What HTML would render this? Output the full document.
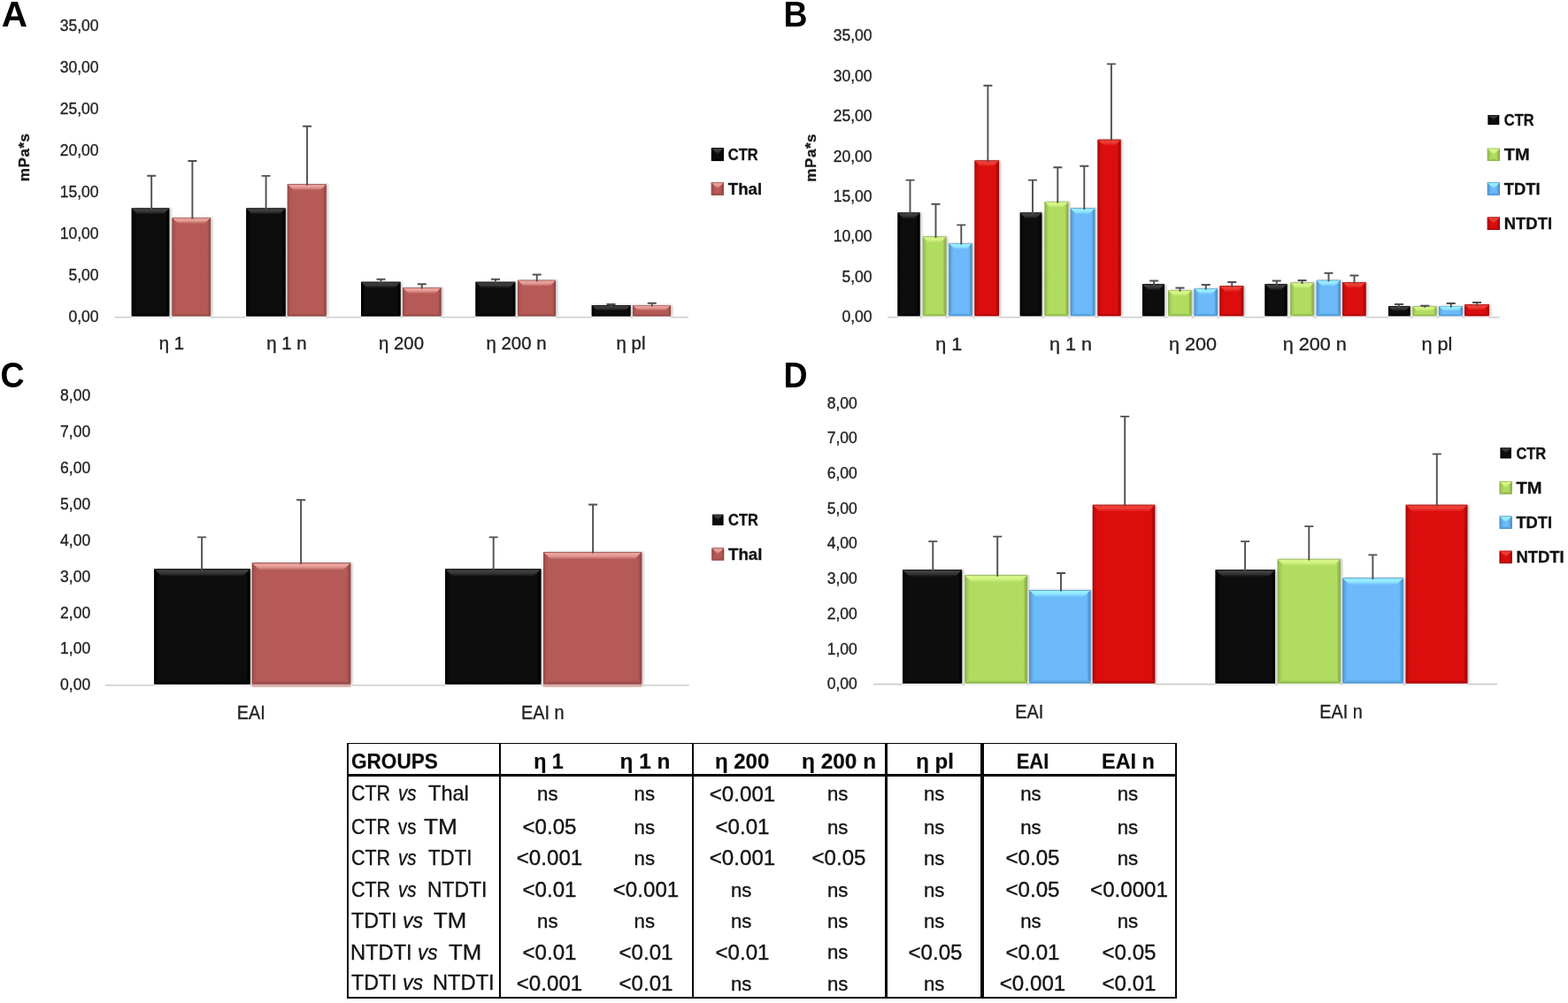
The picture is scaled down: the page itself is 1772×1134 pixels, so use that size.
<!DOCTYPE html>
<html lang="en">
<head>
<meta charset="utf-8">
<title>Figure: viscosity and EAI by group</title>
<style>
html,body{margin:0;padding:0;background:#fff;}
body{width:1772px;height:1134px;position:relative;overflow:hidden;font-family:"Liberation Sans",sans-serif;}
svg.charts{position:absolute;left:0;top:0;display:block;}
.tbl{position:absolute;left:0;top:0;width:1772px;height:1134px;}
.ln{position:absolute;background:#060606;}
.c{position:absolute;white-space:nowrap;font-size:24px;line-height:28px;height:28px;margin-top:-14px;color:#141414;
   transform:translateX(-50%);-webkit-text-stroke:0.35px #141414;}
.c.l{transform:scaleX(.95);transform-origin:0 50%;}
.c.h{font-weight:bold;color:#0a0a0a;-webkit-text-stroke:0.2px #0a0a0a;}
.c.h.l{transform-origin:0 50%;}
.c.n{font-size:22.2px;margin-top:-13.4px;}
.c.d{transform:translateX(-50%) scaleX(1.005);}
.r{position:absolute;left:0;width:560px;height:28px;margin-top:-14px;font-size:24px;line-height:28px;color:#141414;-webkit-text-stroke:0.35px #141414;}
.r .w{position:absolute;top:0;white-space:nowrap;transform-origin:0 50%;}
.r i{font-style:italic;}
</style>
</head>
<body>
<svg width="1772" height="1134" viewBox="0 0 1772 1134" font-family='"Liberation Sans", sans-serif' class="charts" role="img" aria-label="Bar charts A to D">
<defs><filter id="sh" x="-20%" y="-20%" width="140%" height="140%"><feGaussianBlur in="SourceAlpha" stdDeviation="1.8"/><feOffset dx="1.5" dy="0.4"/><feComponentTransfer><feFuncA type="linear" slope="0.24"/></feComponentTransfer></filter><linearGradient id="kT" x1="0" y1="0" x2="0" y2="1"><stop offset="0" stop-color="#000000"/><stop offset="0.16" stop-color="#3e3e3e"/><stop offset="0.5" stop-color="#3e3e3e" stop-opacity="0.9"/><stop offset="1" stop-color="#0d0d0d"/></linearGradient><linearGradient id="kB" x1="0" y1="0" x2="0" y2="1"><stop offset="0" stop-color="#0d0d0d"/><stop offset="0.55" stop-color="#0d0d0d"/><stop offset="1" stop-color="#000000"/></linearGradient><linearGradient id="kR" x1="0" y1="0" x2="1" y2="0"><stop offset="0" stop-color="#0d0d0d"/><stop offset="0.45" stop-color="#0d0d0d"/><stop offset="0.8" stop-color="#000000"/><stop offset="1" stop-color="#000000"/></linearGradient><linearGradient id="kL" x1="0" y1="0" x2="1" y2="0"><stop offset="0" stop-color="#000000"/><stop offset="0.25" stop-color="#050505"/><stop offset="0.7" stop-color="#0d0d0d"/><stop offset="1" stop-color="#0d0d0d"/></linearGradient><linearGradient id="pT" x1="0" y1="0" x2="0" y2="1"><stop offset="0" stop-color="#8a4442"/><stop offset="0.16" stop-color="#eba39d"/><stop offset="0.5" stop-color="#eba39d" stop-opacity="0.9"/><stop offset="1" stop-color="#b55a56"/></linearGradient><linearGradient id="pB" x1="0" y1="0" x2="0" y2="1"><stop offset="0" stop-color="#b55a56"/><stop offset="0.55" stop-color="#b55a56"/><stop offset="1" stop-color="#8f4542"/></linearGradient><linearGradient id="pR" x1="0" y1="0" x2="1" y2="0"><stop offset="0" stop-color="#b55a56"/><stop offset="0.45" stop-color="#b55a56"/><stop offset="0.8" stop-color="#9a4a47"/><stop offset="1" stop-color="#8a4442"/></linearGradient><linearGradient id="pL" x1="0" y1="0" x2="1" y2="0"><stop offset="0" stop-color="#8a4442"/><stop offset="0.25" stop-color="#a95250"/><stop offset="0.7" stop-color="#b55a56"/><stop offset="1" stop-color="#b55a56"/></linearGradient><linearGradient id="gT" x1="0" y1="0" x2="0" y2="1"><stop offset="0" stop-color="#8aa850"/><stop offset="0.16" stop-color="#d8f68a"/><stop offset="0.5" stop-color="#d8f68a" stop-opacity="0.9"/><stop offset="1" stop-color="#b0dc60"/></linearGradient><linearGradient id="gB" x1="0" y1="0" x2="0" y2="1"><stop offset="0" stop-color="#b0dc60"/><stop offset="0.55" stop-color="#b0dc60"/><stop offset="1" stop-color="#88ac48"/></linearGradient><linearGradient id="gR" x1="0" y1="0" x2="1" y2="0"><stop offset="0" stop-color="#b0dc60"/><stop offset="0.45" stop-color="#b0dc60"/><stop offset="0.8" stop-color="#8fb44e"/><stop offset="1" stop-color="#8aa850"/></linearGradient><linearGradient id="gL" x1="0" y1="0" x2="1" y2="0"><stop offset="0" stop-color="#8aa850"/><stop offset="0.25" stop-color="#9dc455"/><stop offset="0.7" stop-color="#b0dc60"/><stop offset="1" stop-color="#b0dc60"/></linearGradient><linearGradient id="bT" x1="0" y1="0" x2="0" y2="1"><stop offset="0" stop-color="#4e8cc0"/><stop offset="0.16" stop-color="#98f0ff"/><stop offset="0.5" stop-color="#98f0ff" stop-opacity="0.9"/><stop offset="1" stop-color="#6cbaf9"/></linearGradient><linearGradient id="bB" x1="0" y1="0" x2="0" y2="1"><stop offset="0" stop-color="#6cbaf9"/><stop offset="0.55" stop-color="#6cbaf9"/><stop offset="1" stop-color="#4a8ec8"/></linearGradient><linearGradient id="bR" x1="0" y1="0" x2="1" y2="0"><stop offset="0" stop-color="#6cbaf9"/><stop offset="0.45" stop-color="#6cbaf9"/><stop offset="0.8" stop-color="#5096d0"/><stop offset="1" stop-color="#4e8cc0"/></linearGradient><linearGradient id="bL" x1="0" y1="0" x2="1" y2="0"><stop offset="0" stop-color="#4e8cc0"/><stop offset="0.25" stop-color="#5aa2de"/><stop offset="0.7" stop-color="#6cbaf9"/><stop offset="1" stop-color="#6cbaf9"/></linearGradient><linearGradient id="rT" x1="0" y1="0" x2="0" y2="1"><stop offset="0" stop-color="#9a0808"/><stop offset="0.16" stop-color="#ee4038"/><stop offset="0.5" stop-color="#ee4038" stop-opacity="0.9"/><stop offset="1" stop-color="#dc0d0d"/></linearGradient><linearGradient id="rB" x1="0" y1="0" x2="0" y2="1"><stop offset="0" stop-color="#dc0d0d"/><stop offset="0.55" stop-color="#dc0d0d"/><stop offset="1" stop-color="#a00606"/></linearGradient><linearGradient id="rR" x1="0" y1="0" x2="1" y2="0"><stop offset="0" stop-color="#dc0d0d"/><stop offset="0.45" stop-color="#dc0d0d"/><stop offset="0.8" stop-color="#a80808"/><stop offset="1" stop-color="#9a0808"/></linearGradient><linearGradient id="rL" x1="0" y1="0" x2="1" y2="0"><stop offset="0" stop-color="#9a0808"/><stop offset="0.25" stop-color="#c40a0a"/><stop offset="0.7" stop-color="#dc0d0d"/><stop offset="1" stop-color="#dc0d0d"/></linearGradient></defs>
<g id="chart-A">
<path d="M129.5 358.75H778" stroke="#cdcdcd" stroke-width="1.6"/>
<text transform="translate(111.6 35.1) scale(0.965 1)" font-size="18.2" text-anchor="end" font-weight="normal" fill="#222" stroke="#222" stroke-width="0.32">35,00</text>
<text transform="translate(111.6 82.1) scale(0.965 1)" font-size="18.2" text-anchor="end" font-weight="normal" fill="#222" stroke="#222" stroke-width="0.32">30,00</text>
<text transform="translate(111.6 129.1) scale(0.965 1)" font-size="18.2" text-anchor="end" font-weight="normal" fill="#222" stroke="#222" stroke-width="0.32">25,00</text>
<text transform="translate(111.6 176.1) scale(0.965 1)" font-size="18.2" text-anchor="end" font-weight="normal" fill="#222" stroke="#222" stroke-width="0.32">20,00</text>
<text transform="translate(111.6 223) scale(0.965 1)" font-size="18.2" text-anchor="end" font-weight="normal" fill="#222" stroke="#222" stroke-width="0.32">15,00</text>
<text transform="translate(111.6 270) scale(0.965 1)" font-size="18.2" text-anchor="end" font-weight="normal" fill="#222" stroke="#222" stroke-width="0.32">10,00</text>
<text transform="translate(111.6 316.9) scale(0.965 1)" font-size="18.2" text-anchor="end" font-weight="normal" fill="#222" stroke="#222" stroke-width="0.32">5,00</text>
<text transform="translate(111.6 363.9) scale(0.965 1)" font-size="18.2" text-anchor="end" font-weight="normal" fill="#222" stroke="#222" stroke-width="0.32">0,00</text>
<clipPath id="clipA"><rect x="109.5" y="0" width="708.5" height="358"/></clipPath>
<g clip-path="url(#clipA)"><g filter="url(#sh)">
<rect x="148.75" y="235.4" width="42.5" height="122" fill="#0d0d0d"/>
<rect x="194.5" y="246" width="43.5" height="111.4" fill="#b55a56"/>
<rect x="278.3" y="235.4" width="44.3" height="122" fill="#0d0d0d"/>
<rect x="324.8" y="208.2" width="43.8" height="149.2" fill="#b55a56"/>
<rect x="408" y="318.75" width="44.5" height="38.65" fill="#0d0d0d"/>
<rect x="455" y="325" width="43.5" height="32.4" fill="#b55a56"/>
<rect x="537.5" y="318.75" width="44.75" height="38.65" fill="#0d0d0d"/>
<rect x="585" y="316.75" width="43" height="40.65" fill="#b55a56"/>
<rect x="668.75" y="345" width="43.75" height="12.4" fill="#0d0d0d"/>
<rect x="715" y="345" width="43" height="12.4" fill="#b55a56"/>
</g></g>
<rect x="148.75" y="357.4" width="42.5" height="2.35" fill="#fff" fill-opacity="0.8"/>
<rect x="148.75" y="235.4" width="42.5" height="122" fill="#0d0d0d"/><path d="M148.75 235.4L155.75 242.4V350.4L148.75 357.4Z" fill="url(#kL)"/><path d="M191.25 235.4L184.25 242.4V350.4L191.25 357.4Z" fill="url(#kR)"/><path d="M148.75 357.4L155.75 350.4H184.25L191.25 357.4Z" fill="url(#kB)"/><path d="M148.75 235.4H191.25L184.25 242.4H155.75Z" fill="url(#kT)"/>
<rect x="194.5" y="357.4" width="43.5" height="2.35" fill="#fff" fill-opacity="0.8"/>
<rect x="194.5" y="246" width="43.5" height="111.4" fill="#b55a56"/><path d="M194.5 246L201.5 253V350.4L194.5 357.4Z" fill="url(#pL)"/><path d="M238 246L231 253V350.4L238 357.4Z" fill="url(#pR)"/><path d="M194.5 357.4L201.5 350.4H231L238 357.4Z" fill="url(#pB)"/><path d="M194.5 246H238L231 253H201.5Z" fill="url(#pT)"/>
<rect x="278.3" y="357.4" width="44.3" height="2.35" fill="#fff" fill-opacity="0.8"/>
<rect x="278.3" y="235.4" width="44.3" height="122" fill="#0d0d0d"/><path d="M278.3 235.4L285.3 242.4V350.4L278.3 357.4Z" fill="url(#kL)"/><path d="M322.6 235.4L315.6 242.4V350.4L322.6 357.4Z" fill="url(#kR)"/><path d="M278.3 357.4L285.3 350.4H315.6L322.6 357.4Z" fill="url(#kB)"/><path d="M278.3 235.4H322.6L315.6 242.4H285.3Z" fill="url(#kT)"/>
<rect x="324.8" y="357.4" width="43.8" height="2.35" fill="#fff" fill-opacity="0.8"/>
<rect x="324.8" y="208.2" width="43.8" height="149.2" fill="#b55a56"/><path d="M324.8 208.2L331.8 215.2V350.4L324.8 357.4Z" fill="url(#pL)"/><path d="M368.6 208.2L361.6 215.2V350.4L368.6 357.4Z" fill="url(#pR)"/><path d="M324.8 357.4L331.8 350.4H361.6L368.6 357.4Z" fill="url(#pB)"/><path d="M324.8 208.2H368.6L361.6 215.2H331.8Z" fill="url(#pT)"/>
<rect x="408" y="357.4" width="44.5" height="2.35" fill="#fff" fill-opacity="0.8"/>
<rect x="408" y="318.75" width="44.5" height="38.65" fill="#0d0d0d"/><path d="M408 318.75L415 325.75V350.4L408 357.4Z" fill="url(#kL)"/><path d="M452.5 318.75L445.5 325.75V350.4L452.5 357.4Z" fill="url(#kR)"/><path d="M408 357.4L415 350.4H445.5L452.5 357.4Z" fill="url(#kB)"/><path d="M408 318.75H452.5L445.5 325.75H415Z" fill="url(#kT)"/>
<rect x="455" y="357.4" width="43.5" height="2.35" fill="#fff" fill-opacity="0.8"/>
<rect x="455" y="325" width="43.5" height="32.4" fill="#b55a56"/><path d="M455 325L462 332V350.4L455 357.4Z" fill="url(#pL)"/><path d="M498.5 325L491.5 332V350.4L498.5 357.4Z" fill="url(#pR)"/><path d="M455 357.4L462 350.4H491.5L498.5 357.4Z" fill="url(#pB)"/><path d="M455 325H498.5L491.5 332H462Z" fill="url(#pT)"/>
<rect x="537.5" y="357.4" width="44.75" height="2.35" fill="#fff" fill-opacity="0.8"/>
<rect x="537.5" y="318.75" width="44.75" height="38.65" fill="#0d0d0d"/><path d="M537.5 318.75L544.5 325.75V350.4L537.5 357.4Z" fill="url(#kL)"/><path d="M582.25 318.75L575.25 325.75V350.4L582.25 357.4Z" fill="url(#kR)"/><path d="M537.5 357.4L544.5 350.4H575.25L582.25 357.4Z" fill="url(#kB)"/><path d="M537.5 318.75H582.25L575.25 325.75H544.5Z" fill="url(#kT)"/>
<rect x="585" y="357.4" width="43" height="2.35" fill="#fff" fill-opacity="0.8"/>
<rect x="585" y="316.75" width="43" height="40.65" fill="#b55a56"/><path d="M585 316.75L592 323.75V350.4L585 357.4Z" fill="url(#pL)"/><path d="M628 316.75L621 323.75V350.4L628 357.4Z" fill="url(#pR)"/><path d="M585 357.4L592 350.4H621L628 357.4Z" fill="url(#pB)"/><path d="M585 316.75H628L621 323.75H592Z" fill="url(#pT)"/>
<rect x="668.75" y="357.4" width="43.75" height="2.35" fill="#fff" fill-opacity="0.8"/>
<rect x="668.75" y="345" width="43.75" height="12.4" fill="#0d0d0d"/><path d="M668.75 345L674.95 351.2V351.2L668.75 357.4Z" fill="url(#kL)"/><path d="M712.5 345L706.3 351.2V351.2L712.5 357.4Z" fill="url(#kR)"/><path d="M668.75 357.4L674.95 351.2H706.3L712.5 357.4Z" fill="url(#kB)"/><path d="M668.75 345H712.5L706.3 351.2H674.95Z" fill="url(#kT)"/>
<rect x="715" y="357.4" width="43" height="2.35" fill="#fff" fill-opacity="0.8"/>
<rect x="715" y="345" width="43" height="12.4" fill="#b55a56"/><path d="M715 345L721.2 351.2V351.2L715 357.4Z" fill="url(#pL)"/><path d="M758 345L751.8 351.2V351.2L758 357.4Z" fill="url(#pR)"/><path d="M715 357.4L721.2 351.2H751.8L758 357.4Z" fill="url(#pB)"/><path d="M715 345H758L751.8 351.2H721.2Z" fill="url(#pT)"/>
<path d="M171.2 236.9V198.8M166.2 198.8H176.2" stroke="#505050" stroke-width="1.9" fill="none"/>
<path d="M217.4 247.5V182M212.4 182H222.4" stroke="#505050" stroke-width="1.9" fill="none"/>
<path d="M300.6 236.9V198.9M295.6 198.9H305.6" stroke="#505050" stroke-width="1.9" fill="none"/>
<path d="M347.1 209.7V142.7M342.1 142.7H352.1" stroke="#505050" stroke-width="1.9" fill="none"/>
<path d="M430.5 320.25V315.75M425.5 315.75H435.5" stroke="#505050" stroke-width="1.9" fill="none"/>
<path d="M476.75 326.5V321.25M471.75 321.25H481.75" stroke="#505050" stroke-width="1.9" fill="none"/>
<path d="M560 320.25V315.75M555 315.75H565" stroke="#505050" stroke-width="1.9" fill="none"/>
<path d="M606.75 318.25V310.5M601.75 310.5H611.75" stroke="#505050" stroke-width="1.9" fill="none"/>
<path d="M690.5 346.5V344M685.5 344H695.5" stroke="#505050" stroke-width="1.9" fill="none"/>
<path d="M736.75 346.5V342.75M731.75 342.75H741.75" stroke="#505050" stroke-width="1.9" fill="none"/>
<text transform="translate(194 395.4) scale(1.030 1)" font-size="19.8" text-anchor="middle" font-weight="normal" fill="#222" stroke="#222" stroke-width="0.32">η 1</text>
<text transform="translate(324 395.4) scale(1.030 1)" font-size="19.8" text-anchor="middle" font-weight="normal" fill="#222" stroke="#222" stroke-width="0.32">η 1 n</text>
<text transform="translate(453.5 395.4) scale(1.030 1)" font-size="19.8" text-anchor="middle" font-weight="normal" fill="#222" stroke="#222" stroke-width="0.32">η 200</text>
<text transform="translate(583.5 395.4) scale(1.030 1)" font-size="19.8" text-anchor="middle" font-weight="normal" fill="#222" stroke="#222" stroke-width="0.32">η 200 n</text>
<text transform="translate(713 395.4) scale(1.030 1)" font-size="19.8" text-anchor="middle" font-weight="normal" fill="#222" stroke="#222" stroke-width="0.32">η pl</text>
<text transform="translate(27.5 177.8) rotate(-90)" font-size="17.1" font-weight="bold" text-anchor="middle" fill="#1a1a1a" stroke="#1a1a1a" stroke-width="0.35" letter-spacing="0.5" y="5.8">mPa*s</text>
<rect x="803.9" y="167.1" width="14" height="15" fill="#0d0d0d"/><path d="M803.9 167.1L810.9 174.6L803.9 182.1Z" fill="url(#kL)"/><path d="M817.9 167.1L810.9 174.6L817.9 182.1Z" fill="url(#kR)"/><path d="M803.9 182.1L810.9 174.6L817.9 182.1Z" fill="url(#kB)"/><path d="M803.9 167.1H817.9L810.9 174.6Z" fill="url(#kT)"/>
<text transform="translate(822.8 180.9) scale(0.930 1)" font-size="17.7" text-anchor="start" font-weight="bold" fill="#111" stroke="#111" stroke-width="0.3">CTR</text>
<rect x="803.8" y="206.1" width="14.2" height="14.6" fill="#b55a56"/><path d="M803.8 206.1L810.9 213.4L803.8 220.7Z" fill="url(#pL)"/><path d="M818 206.1L810.9 213.4L818 220.7Z" fill="url(#pR)"/><path d="M803.8 220.7L810.9 213.4L818 220.7Z" fill="url(#pB)"/><path d="M803.8 206.1H818L810.9 213.4Z" fill="url(#pT)"/>
<text transform="translate(822.8 219.7) scale(1.056 1)" font-size="17.7" text-anchor="start" font-weight="bold" fill="#111" stroke="#111" stroke-width="0.3">Thal</text>
<text transform="translate(1.78 29.85) scale(1.011 1)" font-size="40.1" text-anchor="start" font-weight="bold" fill="#000">A</text>
</g>
<g id="chart-B">
<path d="M1003 358.75H1694.5" stroke="#cdcdcd" stroke-width="1.6"/>
<text transform="translate(985.6 46.4) scale(0.965 1)" font-size="18.2" text-anchor="end" font-weight="normal" fill="#222" stroke="#222" stroke-width="0.32">35,00</text>
<text transform="translate(985.6 91.8) scale(0.965 1)" font-size="18.2" text-anchor="end" font-weight="normal" fill="#222" stroke="#222" stroke-width="0.32">30,00</text>
<text transform="translate(985.6 137.1) scale(0.965 1)" font-size="18.2" text-anchor="end" font-weight="normal" fill="#222" stroke="#222" stroke-width="0.32">25,00</text>
<text transform="translate(985.6 182.5) scale(0.965 1)" font-size="18.2" text-anchor="end" font-weight="normal" fill="#222" stroke="#222" stroke-width="0.32">20,00</text>
<text transform="translate(985.6 227.8) scale(0.965 1)" font-size="18.2" text-anchor="end" font-weight="normal" fill="#222" stroke="#222" stroke-width="0.32">15,00</text>
<text transform="translate(985.6 273.2) scale(0.965 1)" font-size="18.2" text-anchor="end" font-weight="normal" fill="#222" stroke="#222" stroke-width="0.32">10,00</text>
<text transform="translate(985.6 318.6) scale(0.965 1)" font-size="18.2" text-anchor="end" font-weight="normal" fill="#222" stroke="#222" stroke-width="0.32">5,00</text>
<text transform="translate(985.6 363.9) scale(0.965 1)" font-size="18.2" text-anchor="end" font-weight="normal" fill="#222" stroke="#222" stroke-width="0.32">0,00</text>
<clipPath id="clipB"><rect x="983" y="0" width="751.5" height="357.9"/></clipPath>
<g clip-path="url(#clipB)"><g filter="url(#sh)">
<rect x="1014.5" y="240.4" width="25" height="116.9" fill="#0d0d0d"/>
<rect x="1042.75" y="267.5" width="26.5" height="89.8" fill="#b0dc60"/>
<rect x="1072.25" y="275" width="26.25" height="82.3" fill="#6cbaf9"/>
<rect x="1101.5" y="181.5" width="27.5" height="175.8" fill="#dc0d0d"/>
<rect x="1152.75" y="240.4" width="24.5" height="116.9" fill="#0d0d0d"/>
<rect x="1180.5" y="227.9" width="26.75" height="129.4" fill="#b0dc60"/>
<rect x="1209.75" y="235.4" width="27.5" height="121.9" fill="#6cbaf9"/>
<rect x="1240.5" y="157.8" width="26" height="199.5" fill="#dc0d0d"/>
<rect x="1291" y="321.25" width="25" height="36.05" fill="#0d0d0d"/>
<rect x="1320" y="328" width="26.5" height="29.3" fill="#b0dc60"/>
<rect x="1349.5" y="326" width="26.25" height="31.3" fill="#6cbaf9"/>
<rect x="1378.5" y="323.25" width="26.75" height="34.05" fill="#dc0d0d"/>
<rect x="1429.5" y="321.25" width="25" height="36.05" fill="#0d0d0d"/>
<rect x="1458.25" y="319.5" width="26.5" height="37.8" fill="#b0dc60"/>
<rect x="1487.75" y="316.75" width="27" height="40.55" fill="#6cbaf9"/>
<rect x="1517.25" y="319" width="26.25" height="38.3" fill="#dc0d0d"/>
<rect x="1569" y="346.25" width="24.5" height="11.05" fill="#0d0d0d"/>
<rect x="1596.5" y="346.25" width="26.75" height="11.05" fill="#b0dc60"/>
<rect x="1626" y="346" width="26.75" height="11.3" fill="#6cbaf9"/>
<rect x="1655.25" y="344.25" width="27.5" height="13.05" fill="#dc0d0d"/>
</g></g>
<rect x="1014.5" y="357.3" width="25" height="2.45" fill="#fff" fill-opacity="0.8"/>
<rect x="1014.5" y="240.4" width="25" height="116.9" fill="#0d0d0d"/><path d="M1014.5 240.4L1021.5 247.4V350.3L1014.5 357.3Z" fill="url(#kL)"/><path d="M1039.5 240.4L1032.5 247.4V350.3L1039.5 357.3Z" fill="url(#kR)"/><path d="M1014.5 357.3L1021.5 350.3H1032.5L1039.5 357.3Z" fill="url(#kB)"/><path d="M1014.5 240.4H1039.5L1032.5 247.4H1021.5Z" fill="url(#kT)"/>
<rect x="1042.75" y="357.3" width="26.5" height="2.45" fill="#fff" fill-opacity="0.8"/>
<rect x="1042.75" y="267.5" width="26.5" height="89.8" fill="#b0dc60"/><path d="M1042.75 267.5L1049.75 274.5V350.3L1042.75 357.3Z" fill="url(#gL)"/><path d="M1069.25 267.5L1062.25 274.5V350.3L1069.25 357.3Z" fill="url(#gR)"/><path d="M1042.75 357.3L1049.75 350.3H1062.25L1069.25 357.3Z" fill="url(#gB)"/><path d="M1042.75 267.5H1069.25L1062.25 274.5H1049.75Z" fill="url(#gT)"/>
<rect x="1072.25" y="357.3" width="26.25" height="2.45" fill="#fff" fill-opacity="0.8"/>
<rect x="1072.25" y="275" width="26.25" height="82.3" fill="#6cbaf9"/><path d="M1072.25 275L1079.25 282V350.3L1072.25 357.3Z" fill="url(#bL)"/><path d="M1098.5 275L1091.5 282V350.3L1098.5 357.3Z" fill="url(#bR)"/><path d="M1072.25 357.3L1079.25 350.3H1091.5L1098.5 357.3Z" fill="url(#bB)"/><path d="M1072.25 275H1098.5L1091.5 282H1079.25Z" fill="url(#bT)"/>
<rect x="1101.5" y="357.3" width="27.5" height="2.45" fill="#fff" fill-opacity="0.8"/>
<rect x="1101.5" y="181.5" width="27.5" height="175.8" fill="#dc0d0d"/><path d="M1101.5 181.5L1108.5 188.5V350.3L1101.5 357.3Z" fill="url(#rL)"/><path d="M1129 181.5L1122 188.5V350.3L1129 357.3Z" fill="url(#rR)"/><path d="M1101.5 357.3L1108.5 350.3H1122L1129 357.3Z" fill="url(#rB)"/><path d="M1101.5 181.5H1129L1122 188.5H1108.5Z" fill="url(#rT)"/>
<rect x="1152.75" y="357.3" width="24.5" height="2.45" fill="#fff" fill-opacity="0.8"/>
<rect x="1152.75" y="240.4" width="24.5" height="116.9" fill="#0d0d0d"/><path d="M1152.75 240.4L1159.75 247.4V350.3L1152.75 357.3Z" fill="url(#kL)"/><path d="M1177.25 240.4L1170.25 247.4V350.3L1177.25 357.3Z" fill="url(#kR)"/><path d="M1152.75 357.3L1159.75 350.3H1170.25L1177.25 357.3Z" fill="url(#kB)"/><path d="M1152.75 240.4H1177.25L1170.25 247.4H1159.75Z" fill="url(#kT)"/>
<rect x="1180.5" y="357.3" width="26.75" height="2.45" fill="#fff" fill-opacity="0.8"/>
<rect x="1180.5" y="227.9" width="26.75" height="129.4" fill="#b0dc60"/><path d="M1180.5 227.9L1187.5 234.9V350.3L1180.5 357.3Z" fill="url(#gL)"/><path d="M1207.25 227.9L1200.25 234.9V350.3L1207.25 357.3Z" fill="url(#gR)"/><path d="M1180.5 357.3L1187.5 350.3H1200.25L1207.25 357.3Z" fill="url(#gB)"/><path d="M1180.5 227.9H1207.25L1200.25 234.9H1187.5Z" fill="url(#gT)"/>
<rect x="1209.75" y="357.3" width="27.5" height="2.45" fill="#fff" fill-opacity="0.8"/>
<rect x="1209.75" y="235.4" width="27.5" height="121.9" fill="#6cbaf9"/><path d="M1209.75 235.4L1216.75 242.4V350.3L1209.75 357.3Z" fill="url(#bL)"/><path d="M1237.25 235.4L1230.25 242.4V350.3L1237.25 357.3Z" fill="url(#bR)"/><path d="M1209.75 357.3L1216.75 350.3H1230.25L1237.25 357.3Z" fill="url(#bB)"/><path d="M1209.75 235.4H1237.25L1230.25 242.4H1216.75Z" fill="url(#bT)"/>
<rect x="1240.5" y="357.3" width="26" height="2.45" fill="#fff" fill-opacity="0.8"/>
<rect x="1240.5" y="157.8" width="26" height="199.5" fill="#dc0d0d"/><path d="M1240.5 157.8L1247.5 164.8V350.3L1240.5 357.3Z" fill="url(#rL)"/><path d="M1266.5 157.8L1259.5 164.8V350.3L1266.5 357.3Z" fill="url(#rR)"/><path d="M1240.5 357.3L1247.5 350.3H1259.5L1266.5 357.3Z" fill="url(#rB)"/><path d="M1240.5 157.8H1266.5L1259.5 164.8H1247.5Z" fill="url(#rT)"/>
<rect x="1291" y="357.3" width="25" height="2.45" fill="#fff" fill-opacity="0.8"/>
<rect x="1291" y="321.25" width="25" height="36.05" fill="#0d0d0d"/><path d="M1291 321.25L1298 328.25V350.3L1291 357.3Z" fill="url(#kL)"/><path d="M1316 321.25L1309 328.25V350.3L1316 357.3Z" fill="url(#kR)"/><path d="M1291 357.3L1298 350.3H1309L1316 357.3Z" fill="url(#kB)"/><path d="M1291 321.25H1316L1309 328.25H1298Z" fill="url(#kT)"/>
<rect x="1320" y="357.3" width="26.5" height="2.45" fill="#fff" fill-opacity="0.8"/>
<rect x="1320" y="328" width="26.5" height="29.3" fill="#b0dc60"/><path d="M1320 328L1327 335V350.3L1320 357.3Z" fill="url(#gL)"/><path d="M1346.5 328L1339.5 335V350.3L1346.5 357.3Z" fill="url(#gR)"/><path d="M1320 357.3L1327 350.3H1339.5L1346.5 357.3Z" fill="url(#gB)"/><path d="M1320 328H1346.5L1339.5 335H1327Z" fill="url(#gT)"/>
<rect x="1349.5" y="357.3" width="26.25" height="2.45" fill="#fff" fill-opacity="0.8"/>
<rect x="1349.5" y="326" width="26.25" height="31.3" fill="#6cbaf9"/><path d="M1349.5 326L1356.5 333V350.3L1349.5 357.3Z" fill="url(#bL)"/><path d="M1375.75 326L1368.75 333V350.3L1375.75 357.3Z" fill="url(#bR)"/><path d="M1349.5 357.3L1356.5 350.3H1368.75L1375.75 357.3Z" fill="url(#bB)"/><path d="M1349.5 326H1375.75L1368.75 333H1356.5Z" fill="url(#bT)"/>
<rect x="1378.5" y="357.3" width="26.75" height="2.45" fill="#fff" fill-opacity="0.8"/>
<rect x="1378.5" y="323.25" width="26.75" height="34.05" fill="#dc0d0d"/><path d="M1378.5 323.25L1385.5 330.25V350.3L1378.5 357.3Z" fill="url(#rL)"/><path d="M1405.25 323.25L1398.25 330.25V350.3L1405.25 357.3Z" fill="url(#rR)"/><path d="M1378.5 357.3L1385.5 350.3H1398.25L1405.25 357.3Z" fill="url(#rB)"/><path d="M1378.5 323.25H1405.25L1398.25 330.25H1385.5Z" fill="url(#rT)"/>
<rect x="1429.5" y="357.3" width="25" height="2.45" fill="#fff" fill-opacity="0.8"/>
<rect x="1429.5" y="321.25" width="25" height="36.05" fill="#0d0d0d"/><path d="M1429.5 321.25L1436.5 328.25V350.3L1429.5 357.3Z" fill="url(#kL)"/><path d="M1454.5 321.25L1447.5 328.25V350.3L1454.5 357.3Z" fill="url(#kR)"/><path d="M1429.5 357.3L1436.5 350.3H1447.5L1454.5 357.3Z" fill="url(#kB)"/><path d="M1429.5 321.25H1454.5L1447.5 328.25H1436.5Z" fill="url(#kT)"/>
<rect x="1458.25" y="357.3" width="26.5" height="2.45" fill="#fff" fill-opacity="0.8"/>
<rect x="1458.25" y="319.5" width="26.5" height="37.8" fill="#b0dc60"/><path d="M1458.25 319.5L1465.25 326.5V350.3L1458.25 357.3Z" fill="url(#gL)"/><path d="M1484.75 319.5L1477.75 326.5V350.3L1484.75 357.3Z" fill="url(#gR)"/><path d="M1458.25 357.3L1465.25 350.3H1477.75L1484.75 357.3Z" fill="url(#gB)"/><path d="M1458.25 319.5H1484.75L1477.75 326.5H1465.25Z" fill="url(#gT)"/>
<rect x="1487.75" y="357.3" width="27" height="2.45" fill="#fff" fill-opacity="0.8"/>
<rect x="1487.75" y="316.75" width="27" height="40.55" fill="#6cbaf9"/><path d="M1487.75 316.75L1494.75 323.75V350.3L1487.75 357.3Z" fill="url(#bL)"/><path d="M1514.75 316.75L1507.75 323.75V350.3L1514.75 357.3Z" fill="url(#bR)"/><path d="M1487.75 357.3L1494.75 350.3H1507.75L1514.75 357.3Z" fill="url(#bB)"/><path d="M1487.75 316.75H1514.75L1507.75 323.75H1494.75Z" fill="url(#bT)"/>
<rect x="1517.25" y="357.3" width="26.25" height="2.45" fill="#fff" fill-opacity="0.8"/>
<rect x="1517.25" y="319" width="26.25" height="38.3" fill="#dc0d0d"/><path d="M1517.25 319L1524.25 326V350.3L1517.25 357.3Z" fill="url(#rL)"/><path d="M1543.5 319L1536.5 326V350.3L1543.5 357.3Z" fill="url(#rR)"/><path d="M1517.25 357.3L1524.25 350.3H1536.5L1543.5 357.3Z" fill="url(#rB)"/><path d="M1517.25 319H1543.5L1536.5 326H1524.25Z" fill="url(#rT)"/>
<rect x="1569" y="357.3" width="24.5" height="2.45" fill="#fff" fill-opacity="0.8"/>
<rect x="1569" y="346.25" width="24.5" height="11.05" fill="#0d0d0d"/><path d="M1569 346.25L1574.53 351.77V351.77L1569 357.3Z" fill="url(#kL)"/><path d="M1593.5 346.25L1587.97 351.77V351.77L1593.5 357.3Z" fill="url(#kR)"/><path d="M1569 357.3L1574.53 351.77H1587.97L1593.5 357.3Z" fill="url(#kB)"/><path d="M1569 346.25H1593.5L1587.97 351.77H1574.53Z" fill="url(#kT)"/>
<rect x="1596.5" y="357.3" width="26.75" height="2.45" fill="#fff" fill-opacity="0.8"/>
<rect x="1596.5" y="346.25" width="26.75" height="11.05" fill="#b0dc60"/><path d="M1596.5 346.25L1602.03 351.77V351.77L1596.5 357.3Z" fill="url(#gL)"/><path d="M1623.25 346.25L1617.72 351.77V351.77L1623.25 357.3Z" fill="url(#gR)"/><path d="M1596.5 357.3L1602.03 351.77H1617.72L1623.25 357.3Z" fill="url(#gB)"/><path d="M1596.5 346.25H1623.25L1617.72 351.77H1602.03Z" fill="url(#gT)"/>
<rect x="1626" y="357.3" width="26.75" height="2.45" fill="#fff" fill-opacity="0.8"/>
<rect x="1626" y="346" width="26.75" height="11.3" fill="#6cbaf9"/><path d="M1626 346L1631.65 351.65V351.65L1626 357.3Z" fill="url(#bL)"/><path d="M1652.75 346L1647.1 351.65V351.65L1652.75 357.3Z" fill="url(#bR)"/><path d="M1626 357.3L1631.65 351.65H1647.1L1652.75 357.3Z" fill="url(#bB)"/><path d="M1626 346H1652.75L1647.1 351.65H1631.65Z" fill="url(#bT)"/>
<rect x="1655.25" y="357.3" width="27.5" height="2.45" fill="#fff" fill-opacity="0.8"/>
<rect x="1655.25" y="344.25" width="27.5" height="13.05" fill="#dc0d0d"/><path d="M1655.25 344.25L1661.78 350.77V350.77L1655.25 357.3Z" fill="url(#rL)"/><path d="M1682.75 344.25L1676.22 350.77V350.77L1682.75 357.3Z" fill="url(#rR)"/><path d="M1655.25 357.3L1661.78 350.77H1676.22L1682.75 357.3Z" fill="url(#rB)"/><path d="M1655.25 344.25H1682.75L1676.22 350.77H1661.78Z" fill="url(#rT)"/>
<path d="M1028.5 241.9V203.6M1023.5 203.6H1033.5" stroke="#505050" stroke-width="1.9" fill="none"/>
<path d="M1057.5 269V230.7M1052.5 230.7H1062.5" stroke="#505050" stroke-width="1.9" fill="none"/>
<path d="M1086.3 276.5V254.4M1081.3 254.4H1091.3" stroke="#505050" stroke-width="1.9" fill="none"/>
<path d="M1116.4 183V96.7M1111.4 96.7H1121.4" stroke="#505050" stroke-width="1.9" fill="none"/>
<path d="M1167 241.9V203.6M1162 203.6H1172" stroke="#505050" stroke-width="1.9" fill="none"/>
<path d="M1195.3 229.4V189.3M1190.3 189.3H1200.3" stroke="#505050" stroke-width="1.9" fill="none"/>
<path d="M1225.3 236.9V187.8M1220.3 187.8H1230.3" stroke="#505050" stroke-width="1.9" fill="none"/>
<path d="M1255.9 159.3V72.4M1250.9 72.4H1260.9" stroke="#505050" stroke-width="1.9" fill="none"/>
<path d="M1304.1 322.75V317.5M1299.1 317.5H1309.1" stroke="#505050" stroke-width="1.9" fill="none"/>
<path d="M1333.5 329.5V325.5M1328.5 325.5H1338.5" stroke="#505050" stroke-width="1.9" fill="none"/>
<path d="M1362.75 327.5V322M1357.75 322H1367.75" stroke="#505050" stroke-width="1.9" fill="none"/>
<path d="M1392.25 324.75V319M1387.25 319H1397.25" stroke="#505050" stroke-width="1.9" fill="none"/>
<path d="M1442.75 322.75V317.5M1437.75 317.5H1447.75" stroke="#505050" stroke-width="1.9" fill="none"/>
<path d="M1471.5 321V317M1466.5 317H1476.5" stroke="#505050" stroke-width="1.9" fill="none"/>
<path d="M1501.5 318.25V308.75M1496.5 308.75H1506.5" stroke="#505050" stroke-width="1.9" fill="none"/>
<path d="M1530.5 320.5V311.5M1525.5 311.5H1535.5" stroke="#505050" stroke-width="1.9" fill="none"/>
<path d="M1581 347.75V344M1576 344H1586" stroke="#505050" stroke-width="1.9" fill="none"/>
<path d="M1610.25 347.75V345.75M1605.25 345.75H1615.25" stroke="#505050" stroke-width="1.9" fill="none"/>
<path d="M1639.75 347.5V343M1634.75 343H1644.75" stroke="#505050" stroke-width="1.9" fill="none"/>
<path d="M1669 345.75V342M1664 342H1674" stroke="#505050" stroke-width="1.9" fill="none"/>
<text transform="translate(1072.2 395.8) scale(1.030 1)" font-size="21" text-anchor="middle" font-weight="normal" fill="#222" stroke="#222" stroke-width="0.32">η 1</text>
<text transform="translate(1210 395.8) scale(1.030 1)" font-size="21" text-anchor="middle" font-weight="normal" fill="#222" stroke="#222" stroke-width="0.32">η 1 n</text>
<text transform="translate(1348 395.8) scale(1.030 1)" font-size="21" text-anchor="middle" font-weight="normal" fill="#222" stroke="#222" stroke-width="0.32">η 200</text>
<text transform="translate(1485.7 395.8) scale(1.030 1)" font-size="21" text-anchor="middle" font-weight="normal" fill="#222" stroke="#222" stroke-width="0.32">η 200 n</text>
<text transform="translate(1623.9 395.8) scale(1.030 1)" font-size="21" text-anchor="middle" font-weight="normal" fill="#222" stroke="#222" stroke-width="0.32">η pl</text>
<text transform="translate(916.6 178.3) rotate(-90)" font-size="17.1" font-weight="bold" text-anchor="middle" fill="#1a1a1a" stroke="#1a1a1a" stroke-width="0.35" letter-spacing="0.5" y="5.8">mPa*s</text>
<rect x="1681.6" y="130.1" width="12.6" height="11" fill="#0d0d0d"/><path d="M1681.6 130.1L1687.9 135.6L1681.6 141.1Z" fill="url(#kL)"/><path d="M1694.2 130.1L1687.9 135.6L1694.2 141.1Z" fill="url(#kR)"/><path d="M1681.6 141.1L1687.9 135.6L1694.2 141.1Z" fill="url(#kB)"/><path d="M1681.6 130.1H1694.2L1687.9 135.6Z" fill="url(#kT)"/>
<text transform="translate(1699.8 141.9) scale(0.930 1)" font-size="17.7" text-anchor="start" font-weight="bold" fill="#111" stroke="#111" stroke-width="0.3">CTR</text>
<rect x="1680.8" y="167.7" width="14.2" height="14.4" fill="#b0dc60"/><path d="M1680.8 167.7L1687.9 174.9L1680.8 182.1Z" fill="url(#gL)"/><path d="M1695 167.7L1687.9 174.9L1695 182.1Z" fill="url(#gR)"/><path d="M1680.8 182.1L1687.9 174.9L1695 182.1Z" fill="url(#gB)"/><path d="M1680.8 167.7H1695L1687.9 174.9Z" fill="url(#gT)"/>
<text transform="translate(1699.8 181.2) scale(1.135 1)" font-size="17.7" text-anchor="start" font-weight="bold" fill="#111" stroke="#111" stroke-width="0.3">TM</text>
<rect x="1680.8" y="206.3" width="14.2" height="14.4" fill="#6cbaf9"/><path d="M1680.8 206.3L1687.9 213.5L1680.8 220.7Z" fill="url(#bL)"/><path d="M1695 206.3L1687.9 213.5L1695 220.7Z" fill="url(#bR)"/><path d="M1680.8 220.7L1687.9 213.5L1695 220.7Z" fill="url(#bB)"/><path d="M1680.8 206.3H1695L1687.9 213.5Z" fill="url(#bT)"/>
<text transform="translate(1699.8 219.8) scale(1.037 1)" font-size="17.7" text-anchor="start" font-weight="bold" fill="#111" stroke="#111" stroke-width="0.3">TDTI</text>
<rect x="1680.8" y="245.6" width="14.2" height="14.4" fill="#dc0d0d"/><path d="M1680.8 245.6L1687.9 252.8L1680.8 260Z" fill="url(#rL)"/><path d="M1695 245.6L1687.9 252.8L1695 260Z" fill="url(#rR)"/><path d="M1680.8 260L1687.9 252.8L1695 260Z" fill="url(#rB)"/><path d="M1680.8 245.6H1695L1687.9 252.8Z" fill="url(#rT)"/>
<text transform="translate(1699.8 259.1) scale(1.042 1)" font-size="17.7" text-anchor="start" font-weight="bold" fill="#111" stroke="#111" stroke-width="0.3">NTDTI</text>
<text transform="translate(885.5 30) scale(0.929 1)" font-size="40.3" text-anchor="start" font-weight="bold" fill="#000">B</text>
</g>
<g id="chart-C">
<path d="M119 774.8H778.6" stroke="#cdcdcd" stroke-width="1.6"/>
<text transform="translate(102.2 453.2) scale(0.965 1)" font-size="18.2" text-anchor="end" font-weight="normal" fill="#222" stroke="#222" stroke-width="0.32">8,00</text>
<text transform="translate(102.2 494.1) scale(0.965 1)" font-size="18.2" text-anchor="end" font-weight="normal" fill="#222" stroke="#222" stroke-width="0.32">7,00</text>
<text transform="translate(102.2 535) scale(0.965 1)" font-size="18.2" text-anchor="end" font-weight="normal" fill="#222" stroke="#222" stroke-width="0.32">6,00</text>
<text transform="translate(102.2 575.8) scale(0.965 1)" font-size="18.2" text-anchor="end" font-weight="normal" fill="#222" stroke="#222" stroke-width="0.32">5,00</text>
<text transform="translate(102.2 616.7) scale(0.965 1)" font-size="18.2" text-anchor="end" font-weight="normal" fill="#222" stroke="#222" stroke-width="0.32">4,00</text>
<text transform="translate(102.2 657.6) scale(0.965 1)" font-size="18.2" text-anchor="end" font-weight="normal" fill="#222" stroke="#222" stroke-width="0.32">3,00</text>
<text transform="translate(102.2 698.5) scale(0.965 1)" font-size="18.2" text-anchor="end" font-weight="normal" fill="#222" stroke="#222" stroke-width="0.32">2,00</text>
<text transform="translate(102.2 739.3) scale(0.965 1)" font-size="18.2" text-anchor="end" font-weight="normal" fill="#222" stroke="#222" stroke-width="0.32">1,00</text>
<text transform="translate(102.2 780.2) scale(0.965 1)" font-size="18.2" text-anchor="end" font-weight="normal" fill="#222" stroke="#222" stroke-width="0.32">0,00</text>
<clipPath id="clipC"><rect x="99" y="0" width="719.6" height="774.2"/></clipPath>
<g clip-path="url(#clipC)"><g filter="url(#sh)">
<rect x="174.2" y="643.3" width="108.4" height="130.3" fill="#0d0d0d"/>
<rect x="284.8" y="636.3" width="111.4" height="137.3" fill="#b55a56"/>
<rect x="503.1" y="643.3" width="108.2" height="130.3" fill="#0d0d0d"/>
<rect x="614" y="624.1" width="111.2" height="149.5" fill="#b55a56"/>
</g></g>
<rect x="174.2" y="773.6" width="108.4" height="2.2" fill="#fff" fill-opacity="0.8"/>
<rect x="174.2" y="643.3" width="108.4" height="130.3" fill="#0d0d0d"/><path d="M174.2 643.3L182.7 651.8V765.1L174.2 773.6Z" fill="url(#kL)"/><path d="M282.6 643.3L274.1 651.8V765.1L282.6 773.6Z" fill="url(#kR)"/><path d="M174.2 773.6L182.7 765.1H274.1L282.6 773.6Z" fill="url(#kB)"/><path d="M174.2 643.3H282.6L274.1 651.8H182.7Z" fill="url(#kT)"/>
<rect x="284.8" y="773.6" width="111.4" height="3.2" fill="#dcb0ae"/>
<rect x="284.8" y="636.3" width="111.4" height="137.3" fill="#b55a56"/><path d="M284.8 636.3L293.3 644.8V765.1L284.8 773.6Z" fill="url(#pL)"/><path d="M396.2 636.3L387.7 644.8V765.1L396.2 773.6Z" fill="url(#pR)"/><path d="M284.8 773.6L293.3 765.1H387.7L396.2 773.6Z" fill="url(#pB)"/><path d="M284.8 636.3H396.2L387.7 644.8H293.3Z" fill="url(#pT)"/>
<rect x="503.1" y="773.6" width="108.2" height="2.2" fill="#fff" fill-opacity="0.8"/>
<rect x="503.1" y="643.3" width="108.2" height="130.3" fill="#0d0d0d"/><path d="M503.1 643.3L511.6 651.8V765.1L503.1 773.6Z" fill="url(#kL)"/><path d="M611.3 643.3L602.8 651.8V765.1L611.3 773.6Z" fill="url(#kR)"/><path d="M503.1 773.6L511.6 765.1H602.8L611.3 773.6Z" fill="url(#kB)"/><path d="M503.1 643.3H611.3L602.8 651.8H511.6Z" fill="url(#kT)"/>
<rect x="614" y="773.6" width="111.2" height="3.2" fill="#dcb0ae"/>
<rect x="614" y="624.1" width="111.2" height="149.5" fill="#b55a56"/><path d="M614 624.1L622.5 632.6V765.1L614 773.6Z" fill="url(#pL)"/><path d="M725.2 624.1L716.7 632.6V765.1L725.2 773.6Z" fill="url(#pR)"/><path d="M614 773.6L622.5 765.1H716.7L725.2 773.6Z" fill="url(#pB)"/><path d="M614 624.1H725.2L716.7 632.6H622.5Z" fill="url(#pT)"/>
<path d="M228.1 644.8V607.4M223.1 607.4H233.1" stroke="#505050" stroke-width="1.9" fill="none"/>
<path d="M340.1 637.8V565.3M335.1 565.3H345.1" stroke="#505050" stroke-width="1.9" fill="none"/>
<path d="M557.7 644.8V607.4M552.7 607.4H562.7" stroke="#505050" stroke-width="1.9" fill="none"/>
<path d="M670.1 625.6V570.5M665.1 570.5H675.1" stroke="#505050" stroke-width="1.9" fill="none"/>
<text transform="translate(283.7 813.45) scale(0.937 1)" font-size="21.2" text-anchor="middle" font-weight="normal" fill="#222" stroke="#222" stroke-width="0.32">EAI</text>
<text transform="translate(613.3 813.45) scale(0.937 1)" font-size="21.2" text-anchor="middle" font-weight="normal" fill="#222" stroke="#222" stroke-width="0.32">EAI n</text>
<rect x="805.2" y="581.7" width="12.2" height="12.2" fill="#0d0d0d"/><path d="M805.2 581.7L811.3 587.8L805.2 593.9Z" fill="url(#kL)"/><path d="M817.4 581.7L811.3 587.8L817.4 593.9Z" fill="url(#kR)"/><path d="M805.2 593.9L811.3 587.8L817.4 593.9Z" fill="url(#kB)"/><path d="M805.2 581.7H817.4L811.3 587.8Z" fill="url(#kT)"/>
<text transform="translate(823 594.1) scale(0.930 1)" font-size="17.7" text-anchor="start" font-weight="bold" fill="#111" stroke="#111" stroke-width="0.3">CTR</text>
<rect x="804.4" y="619.6" width="13.8" height="14" fill="#b55a56"/><path d="M804.4 619.6L811.3 626.6L804.4 633.6Z" fill="url(#pL)"/><path d="M818.2 619.6L811.3 626.6L818.2 633.6Z" fill="url(#pR)"/><path d="M804.4 633.6L811.3 626.6L818.2 633.6Z" fill="url(#pB)"/><path d="M804.4 619.6H818.2L811.3 626.6Z" fill="url(#pT)"/>
<text transform="translate(823 632.9) scale(1.056 1)" font-size="17.7" text-anchor="start" font-weight="bold" fill="#111" stroke="#111" stroke-width="0.3">Thal</text>
<text transform="translate(0.54 438.3) scale(0.919 1)" font-size="40.8" text-anchor="start" font-weight="bold" fill="#000">C</text>
</g>
<g id="chart-D">
<path d="M987 773.6H1692" stroke="#cdcdcd" stroke-width="1.6"/>
<text transform="translate(968.8 461.5) scale(0.965 1)" font-size="18.2" text-anchor="end" font-weight="normal" fill="#222" stroke="#222" stroke-width="0.32">8,00</text>
<text transform="translate(968.8 501.2) scale(0.965 1)" font-size="18.2" text-anchor="end" font-weight="normal" fill="#222" stroke="#222" stroke-width="0.32">7,00</text>
<text transform="translate(968.8 540.9) scale(0.965 1)" font-size="18.2" text-anchor="end" font-weight="normal" fill="#222" stroke="#222" stroke-width="0.32">6,00</text>
<text transform="translate(968.8 580.6) scale(0.965 1)" font-size="18.2" text-anchor="end" font-weight="normal" fill="#222" stroke="#222" stroke-width="0.32">5,00</text>
<text transform="translate(968.8 620.3) scale(0.965 1)" font-size="18.2" text-anchor="end" font-weight="normal" fill="#222" stroke="#222" stroke-width="0.32">4,00</text>
<text transform="translate(968.8 660.1) scale(0.965 1)" font-size="18.2" text-anchor="end" font-weight="normal" fill="#222" stroke="#222" stroke-width="0.32">3,00</text>
<text transform="translate(968.8 699.8) scale(0.965 1)" font-size="18.2" text-anchor="end" font-weight="normal" fill="#222" stroke="#222" stroke-width="0.32">2,00</text>
<text transform="translate(968.8 739.5) scale(0.965 1)" font-size="18.2" text-anchor="end" font-weight="normal" fill="#222" stroke="#222" stroke-width="0.32">1,00</text>
<text transform="translate(968.8 779.2) scale(0.965 1)" font-size="18.2" text-anchor="end" font-weight="normal" fill="#222" stroke="#222" stroke-width="0.32">0,00</text>
<clipPath id="clipD"><rect x="967" y="0" width="765" height="773.2"/></clipPath>
<g clip-path="url(#clipD)"><g filter="url(#sh)">
<rect x="1020" y="644.2" width="67.1" height="128.4" fill="#0d0d0d"/>
<rect x="1090.3" y="650.3" width="70.5" height="122.3" fill="#b0dc60"/>
<rect x="1163" y="667.1" width="69.5" height="105.5" fill="#6cbaf9"/>
<rect x="1234.8" y="570.8" width="70.4" height="201.8" fill="#dc0d0d"/>
<rect x="1373.6" y="644.2" width="67.4" height="128.4" fill="#0d0d0d"/>
<rect x="1443.7" y="631.9" width="71.1" height="140.7" fill="#b0dc60"/>
<rect x="1517.3" y="653.4" width="68.4" height="119.2" fill="#6cbaf9"/>
<rect x="1588.7" y="570.8" width="69.6" height="201.8" fill="#dc0d0d"/>
</g></g>
<rect x="1020" y="772.6" width="67.1" height="2" fill="#fff" fill-opacity="0.8"/>
<rect x="1020" y="644.2" width="67.1" height="128.4" fill="#0d0d0d"/><path d="M1020 644.2L1028 652.2V764.6L1020 772.6Z" fill="url(#kL)"/><path d="M1087.1 644.2L1079.1 652.2V764.6L1087.1 772.6Z" fill="url(#kR)"/><path d="M1020 772.6L1028 764.6H1079.1L1087.1 772.6Z" fill="url(#kB)"/><path d="M1020 644.2H1087.1L1079.1 652.2H1028Z" fill="url(#kT)"/>
<rect x="1090.3" y="772.6" width="70.5" height="2" fill="#fff" fill-opacity="0.8"/>
<rect x="1090.3" y="650.3" width="70.5" height="122.3" fill="#b0dc60"/><path d="M1090.3 650.3L1098.3 658.3V764.6L1090.3 772.6Z" fill="url(#gL)"/><path d="M1160.8 650.3L1152.8 658.3V764.6L1160.8 772.6Z" fill="url(#gR)"/><path d="M1090.3 772.6L1098.3 764.6H1152.8L1160.8 772.6Z" fill="url(#gB)"/><path d="M1090.3 650.3H1160.8L1152.8 658.3H1098.3Z" fill="url(#gT)"/>
<rect x="1163" y="772.6" width="69.5" height="2" fill="#fff" fill-opacity="0.8"/>
<rect x="1163" y="667.1" width="69.5" height="105.5" fill="#6cbaf9"/><path d="M1163 667.1L1171 675.1V764.6L1163 772.6Z" fill="url(#bL)"/><path d="M1232.5 667.1L1224.5 675.1V764.6L1232.5 772.6Z" fill="url(#bR)"/><path d="M1163 772.6L1171 764.6H1224.5L1232.5 772.6Z" fill="url(#bB)"/><path d="M1163 667.1H1232.5L1224.5 675.1H1171Z" fill="url(#bT)"/>
<rect x="1234.8" y="772.6" width="70.4" height="2" fill="#fff" fill-opacity="0.8"/>
<rect x="1234.8" y="570.8" width="70.4" height="201.8" fill="#dc0d0d"/><path d="M1234.8 570.8L1242.8 578.8V764.6L1234.8 772.6Z" fill="url(#rL)"/><path d="M1305.2 570.8L1297.2 578.8V764.6L1305.2 772.6Z" fill="url(#rR)"/><path d="M1234.8 772.6L1242.8 764.6H1297.2L1305.2 772.6Z" fill="url(#rB)"/><path d="M1234.8 570.8H1305.2L1297.2 578.8H1242.8Z" fill="url(#rT)"/>
<rect x="1373.6" y="772.6" width="67.4" height="2" fill="#fff" fill-opacity="0.8"/>
<rect x="1373.6" y="644.2" width="67.4" height="128.4" fill="#0d0d0d"/><path d="M1373.6 644.2L1381.6 652.2V764.6L1373.6 772.6Z" fill="url(#kL)"/><path d="M1441 644.2L1433 652.2V764.6L1441 772.6Z" fill="url(#kR)"/><path d="M1373.6 772.6L1381.6 764.6H1433L1441 772.6Z" fill="url(#kB)"/><path d="M1373.6 644.2H1441L1433 652.2H1381.6Z" fill="url(#kT)"/>
<rect x="1443.7" y="772.6" width="71.1" height="2" fill="#fff" fill-opacity="0.8"/>
<rect x="1443.7" y="631.9" width="71.1" height="140.7" fill="#b0dc60"/><path d="M1443.7 631.9L1451.7 639.9V764.6L1443.7 772.6Z" fill="url(#gL)"/><path d="M1514.8 631.9L1506.8 639.9V764.6L1514.8 772.6Z" fill="url(#gR)"/><path d="M1443.7 772.6L1451.7 764.6H1506.8L1514.8 772.6Z" fill="url(#gB)"/><path d="M1443.7 631.9H1514.8L1506.8 639.9H1451.7Z" fill="url(#gT)"/>
<rect x="1517.3" y="772.6" width="68.4" height="2" fill="#fff" fill-opacity="0.8"/>
<rect x="1517.3" y="653.4" width="68.4" height="119.2" fill="#6cbaf9"/><path d="M1517.3 653.4L1525.3 661.4V764.6L1517.3 772.6Z" fill="url(#bL)"/><path d="M1585.7 653.4L1577.7 661.4V764.6L1585.7 772.6Z" fill="url(#bR)"/><path d="M1517.3 772.6L1525.3 764.6H1577.7L1585.7 772.6Z" fill="url(#bB)"/><path d="M1517.3 653.4H1585.7L1577.7 661.4H1525.3Z" fill="url(#bT)"/>
<rect x="1588.7" y="772.6" width="69.6" height="2" fill="#fff" fill-opacity="0.8"/>
<rect x="1588.7" y="570.8" width="69.6" height="201.8" fill="#dc0d0d"/><path d="M1588.7 570.8L1596.7 578.8V764.6L1588.7 772.6Z" fill="url(#rL)"/><path d="M1658.3 570.8L1650.3 578.8V764.6L1658.3 772.6Z" fill="url(#rR)"/><path d="M1588.7 772.6L1596.7 764.6H1650.3L1658.3 772.6Z" fill="url(#rB)"/><path d="M1588.7 570.8H1658.3L1650.3 578.8H1596.7Z" fill="url(#rT)"/>
<path d="M1054.3 645.7V612.1M1049.3 612.1H1059.3" stroke="#505050" stroke-width="1.9" fill="none"/>
<path d="M1127.2 651.8V606.6M1122.2 606.6H1132.2" stroke="#505050" stroke-width="1.9" fill="none"/>
<path d="M1199 668.6V648M1194 648H1204" stroke="#505050" stroke-width="1.9" fill="none"/>
<path d="M1271.2 572.3V470.9M1266.2 470.9H1276.2" stroke="#505050" stroke-width="1.9" fill="none"/>
<path d="M1407.1 645.7V612.1M1402.1 612.1H1412.1" stroke="#505050" stroke-width="1.9" fill="none"/>
<path d="M1479.3 633.4V595.1M1474.3 595.1H1484.3" stroke="#505050" stroke-width="1.9" fill="none"/>
<path d="M1551.4 654.9V627.4M1546.4 627.4H1556.4" stroke="#505050" stroke-width="1.9" fill="none"/>
<path d="M1623.8 572.3V513.4M1618.8 513.4H1628.8" stroke="#505050" stroke-width="1.9" fill="none"/>
<text transform="translate(1163.2 811.65) scale(0.930 1)" font-size="21.4" text-anchor="middle" font-weight="normal" fill="#222" stroke="#222" stroke-width="0.32">EAI</text>
<text transform="translate(1515.6 811.65) scale(0.930 1)" font-size="21.4" text-anchor="middle" font-weight="normal" fill="#222" stroke="#222" stroke-width="0.32">EAI n</text>
<rect x="1695.6" y="506.2" width="12.2" height="12" fill="#0d0d0d"/><path d="M1695.6 506.2L1701.7 512.2L1695.6 518.2Z" fill="url(#kL)"/><path d="M1707.8 506.2L1701.7 512.2L1707.8 518.2Z" fill="url(#kR)"/><path d="M1695.6 518.2L1701.7 512.2L1707.8 518.2Z" fill="url(#kB)"/><path d="M1695.6 506.2H1707.8L1701.7 512.2Z" fill="url(#kT)"/>
<text transform="translate(1713.4 518.5) scale(0.930 1)" font-size="17.7" text-anchor="start" font-weight="bold" fill="#111" stroke="#111" stroke-width="0.3">CTR</text>
<rect x="1694.6" y="544.3" width="14.2" height="14.4" fill="#b0dc60"/><path d="M1694.6 544.3L1701.7 551.5L1694.6 558.7Z" fill="url(#gL)"/><path d="M1708.8 544.3L1701.7 551.5L1708.8 558.7Z" fill="url(#gR)"/><path d="M1694.6 558.7L1701.7 551.5L1708.8 558.7Z" fill="url(#gB)"/><path d="M1694.6 544.3H1708.8L1701.7 551.5Z" fill="url(#gT)"/>
<text transform="translate(1713.4 557.8) scale(1.135 1)" font-size="17.7" text-anchor="start" font-weight="bold" fill="#111" stroke="#111" stroke-width="0.3">TM</text>
<rect x="1694.6" y="583.6" width="14.2" height="14.4" fill="#6cbaf9"/><path d="M1694.6 583.6L1701.7 590.8L1694.6 598Z" fill="url(#bL)"/><path d="M1708.8 583.6L1701.7 590.8L1708.8 598Z" fill="url(#bR)"/><path d="M1694.6 598L1701.7 590.8L1708.8 598Z" fill="url(#bB)"/><path d="M1694.6 583.6H1708.8L1701.7 590.8Z" fill="url(#bT)"/>
<text transform="translate(1713.4 597.1) scale(1.037 1)" font-size="17.7" text-anchor="start" font-weight="bold" fill="#111" stroke="#111" stroke-width="0.3">TDTI</text>
<rect x="1694.6" y="622.7" width="14.2" height="14.4" fill="#dc0d0d"/><path d="M1694.6 622.7L1701.7 629.9L1694.6 637.1Z" fill="url(#rL)"/><path d="M1708.8 622.7L1701.7 629.9L1708.8 637.1Z" fill="url(#rR)"/><path d="M1694.6 637.1L1701.7 629.9L1708.8 637.1Z" fill="url(#rB)"/><path d="M1694.6 622.7H1708.8L1701.7 629.9Z" fill="url(#rT)"/>
<text transform="translate(1713.4 636.2) scale(1.042 1)" font-size="17.7" text-anchor="start" font-weight="bold" fill="#111" stroke="#111" stroke-width="0.3">NTDTI</text>
<text transform="translate(885.6 438) scale(0.940 1)" font-size="39.9" text-anchor="start" font-weight="bold" fill="#000">D</text>
</g>
</svg>
<div class="tbl" role="table" aria-label="Statistical comparison between groups">
<div class="ln" style="left:392.35px;top:839.5px;width:937.35px;height:1.7px"></div>
<div class="ln" style="left:392.35px;top:1126.5px;width:937.35px;height:2.6px"></div>
<div class="ln" style="left:392.35px;top:875.1px;width:937.35px;height:2.6px"></div>
<div class="ln" style="left:392.35px;top:839.5px;width:1.7px;height:289.6px"></div>
<div class="ln" style="left:1327.6px;top:839.5px;width:2.1px;height:289.6px"></div>
<div class="ln" style="left:564px;top:839.5px;width:2.4px;height:289.6px"></div>
<div class="ln" style="left:781.6px;top:839.5px;width:2.4px;height:289.6px"></div>
<div class="ln" style="left:1000.3px;top:839.5px;width:2.4px;height:289.6px"></div>
<div class="ln" style="left:1108.3px;top:839.5px;width:4.2px;height:289.6px"></div>
<div class="c h l" role="columnheader" style="left:397.4px;top:860.8px;transform:scaleX(.94)">GROUPS</div>
<div class="c h" role="columnheader" style="left:619.8px;top:860.8px;transform:translateX(-50%) scaleX(0.97)">η 1</div>
<div class="c h" role="columnheader" style="left:729.3px;top:860.8px;transform:translateX(-50%) scaleX(1.014)">η 1 n</div>
<div class="c h" role="columnheader" style="left:838.6px;top:860.8px;transform:translateX(-50%) scaleX(1.0)">η 200</div>
<div class="c h" role="columnheader" style="left:947.6px;top:860.8px;transform:translateX(-50%) scaleX(1.017)">η 200 n</div>
<div class="c h" role="columnheader" style="left:1056.6px;top:860.8px;transform:translateX(-50%) scaleX(1.0)">η pl</div>
<div class="c h" role="columnheader" style="left:1167px;top:860.8px;transform:translateX(-50%) scaleX(0.916)">EAI</div>
<div class="c h" role="columnheader" style="left:1275.4px;top:860.8px;transform:translateX(-50%) scaleX(0.975)">EAI n</div>
<div class="r" role="rowheader" style="top:897.1px"><span class="w" style="left:397.09px;transform:scaleX(0.893)">CTR</span> <i class="w" style="left:449.86px;transform:scaleX(0.854)">vs</i> <span class="w" style="left:484.02px;transform:scaleX(0.981)">Thal</span></div>
<div class="c n" role="cell" style="left:618.8px;top:897.6px">ns</div>
<div class="c n" role="cell" style="left:728.3px;top:897.6px">ns</div>
<div class="c d" role="cell" style="left:839.3px;top:897.6px">&lt;0.001</div>
<div class="c n" role="cell" style="left:946.6px;top:897.6px">ns</div>
<div class="c n" role="cell" style="left:1055.6px;top:897.6px">ns</div>
<div class="c n" role="cell" style="left:1165px;top:897.6px">ns</div>
<div class="c n" role="cell" style="left:1274.4px;top:897.6px">ns</div>
<div class="r" role="rowheader" style="top:934.8px"><span class="w" style="left:397.09px;transform:scaleX(0.893)">CTR</span> <span class="w" style="left:450.29px;transform:scaleX(0.850)">vs</span> <span class="w" style="left:478.97px;transform:scaleX(1.092)">TM</span></div>
<div class="c d" role="cell" style="left:620.5px;top:935.1px">&lt;0.05</div>
<div class="c n" role="cell" style="left:728.3px;top:935.1px">ns</div>
<div class="c d" role="cell" style="left:839.3px;top:935.1px">&lt;0.01</div>
<div class="c n" role="cell" style="left:946.6px;top:935.1px">ns</div>
<div class="c n" role="cell" style="left:1055.6px;top:935.1px">ns</div>
<div class="c n" role="cell" style="left:1165px;top:935.1px">ns</div>
<div class="c n" role="cell" style="left:1274.4px;top:935.1px">ns</div>
<div class="r" role="rowheader" style="top:970px"><span class="w" style="left:397.09px;transform:scaleX(0.893)">CTR</span> <i class="w" style="left:449.86px;transform:scaleX(0.854)">vs</i> <span class="w" style="left:484.03px;transform:scaleX(0.927)">TDTI</span></div>
<div class="c d" role="cell" style="left:620.5px;top:970.4px">&lt;0.001</div>
<div class="c n" role="cell" style="left:728.3px;top:970.4px">ns</div>
<div class="c d" role="cell" style="left:839.3px;top:970.4px">&lt;0.001</div>
<div class="c d" role="cell" style="left:948.3px;top:970.4px">&lt;0.05</div>
<div class="c n" role="cell" style="left:1055.6px;top:970.4px">ns</div>
<div class="c d" role="cell" style="left:1166.7px;top:970.4px">&lt;0.05</div>
<div class="c n" role="cell" style="left:1274.4px;top:970.4px">ns</div>
<div class="r" role="rowheader" style="top:1006px"><span class="w" style="left:397.09px;transform:scaleX(0.893)">CTR</span> <i class="w" style="left:449.86px;transform:scaleX(0.854)">vs</i> <span class="w" style="left:483.26px;transform:scaleX(0.954)">NTDTI</span></div>
<div class="c d" role="cell" style="left:620.5px;top:1006.4px">&lt;0.01</div>
<div class="c d" role="cell" style="left:730px;top:1006.4px">&lt;0.001</div>
<div class="c n" role="cell" style="left:837.6px;top:1006.4px">ns</div>
<div class="c n" role="cell" style="left:946.6px;top:1006.4px">ns</div>
<div class="c n" role="cell" style="left:1055.6px;top:1006.4px">ns</div>
<div class="c d" role="cell" style="left:1166.7px;top:1006.4px">&lt;0.05</div>
<div class="c d" role="cell" style="left:1276.1px;top:1006.4px">&lt;0.0001</div>
<div class="r" role="rowheader" style="top:1041px"><span class="w" style="left:397.05px;transform:scaleX(0.964)">TDTI</span> <i class="w" style="left:454.68px;transform:scaleX(0.966)">vs</i> <span class="w" style="left:490.16px;transform:scaleX(1.072)">TM</span></div>
<div class="c n" role="cell" style="left:618.8px;top:1041.3px">ns</div>
<div class="c n" role="cell" style="left:728.3px;top:1041.3px">ns</div>
<div class="c n" role="cell" style="left:837.6px;top:1041.3px">ns</div>
<div class="c n" role="cell" style="left:946.6px;top:1041.3px">ns</div>
<div class="c n" role="cell" style="left:1055.6px;top:1041.3px">ns</div>
<div class="c n" role="cell" style="left:1165px;top:1041.3px">ns</div>
<div class="c n" role="cell" style="left:1274.4px;top:1041.3px">ns</div>
<div class="r" role="rowheader" style="top:1076.5px"><span class="w" style="left:396.24px;transform:scaleX(0.986)">NTDTI</span> <i class="w" style="left:472.11px;transform:scaleX(0.938)">vs</i> <span class="w" style="left:506.93px;transform:scaleX(1.072)">TM</span></div>
<div class="c d" role="cell" style="left:620.5px;top:1076.5px">&lt;0.01</div>
<div class="c d" role="cell" style="left:730px;top:1076.5px">&lt;0.01</div>
<div class="c d" role="cell" style="left:839.3px;top:1076.5px">&lt;0.01</div>
<div class="c n" role="cell" style="left:946.6px;top:1076.5px">ns</div>
<div class="c d" role="cell" style="left:1057.3px;top:1076.5px">&lt;0.05</div>
<div class="c d" role="cell" style="left:1166.7px;top:1076.5px">&lt;0.01</div>
<div class="c d" role="cell" style="left:1276.1px;top:1076.5px">&lt;0.05</div>
<div class="r" role="rowheader" style="top:1111.4px"><span class="w" style="left:397.05px;transform:scaleX(0.964)">TDTI</span> <i class="w" style="left:454.68px;transform:scaleX(0.966)">vs</i> <span class="w" style="left:488.79px;transform:scaleX(0.986)">NTDTI</span></div>
<div class="c d" role="cell" style="left:620.5px;top:1112.1px">&lt;0.001</div>
<div class="c d" role="cell" style="left:730px;top:1112.1px">&lt;0.01</div>
<div class="c n" role="cell" style="left:837.6px;top:1112.1px">ns</div>
<div class="c n" role="cell" style="left:946.6px;top:1112.1px">ns</div>
<div class="c n" role="cell" style="left:1055.6px;top:1112.1px">ns</div>
<div class="c d" role="cell" style="left:1166.7px;top:1112.1px">&lt;0.001</div>
<div class="c d" role="cell" style="left:1276.1px;top:1112.1px">&lt;0.01</div>
</div>
</body>
</html>
